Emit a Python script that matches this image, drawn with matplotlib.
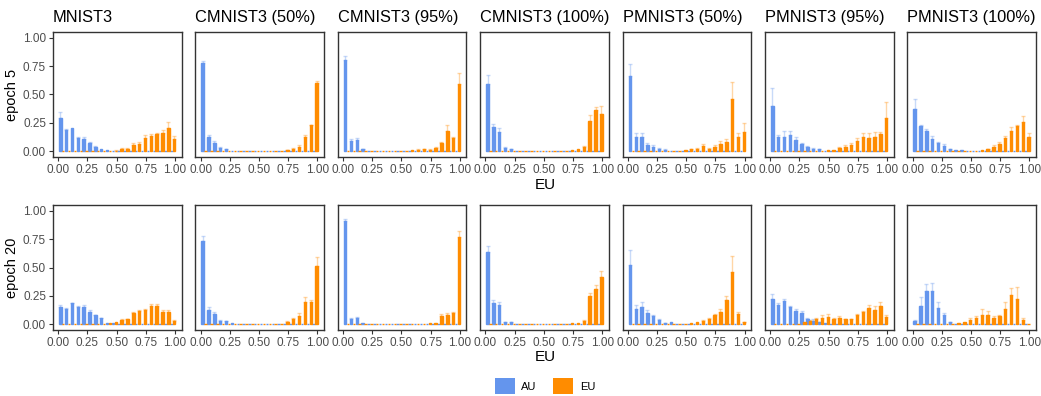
import numpy as np
import matplotlib
matplotlib.use("Agg")
import matplotlib.pyplot as plt
from matplotlib.patches import Patch

plt.rcParams["font.family"] = ["Liberation Sans", "DejaVu Sans"]

# bin positions (20 uncertainty bins)
bin_centers = np.arange(20) * 0.05 + 0.03
titles = ["MNIST3", "CMNIST3 (50%)", "CMNIST3 (95%)", "CMNIST3 (100%)",
          "PMNIST3 (50%)", "PMNIST3 (95%)", "PMNIST3 (100%)"]
row_labels = ["epoch 5", "epoch 20"]

# ---- epoch 5 ----
mnist_e5_au = [0.29, 0.19, 0.205, 0.117, 0.108, 0.073, 0.035, 0.018, 0.01, 0.005, 0.003, 0, 0, 0, 0, 0, 0, 0, 0, 0]
mnist_e5_au_sd = [0.055, 0.01, 0, 0.013, 0.02, 0.007, 0.015, 0, 0, 0, 0, 0, 0, 0, 0, 0, 0, 0, 0, 0]
mnist_e5_eu = [0, 0, 0, 0, 0, 0, 0, 0, 0.003, 0.006, 0.023, 0.023, 0.055, 0.063, 0.117, 0.135, 0.152, 0.158, 0.205, 0.108]
mnist_e5_eu_sd = [0, 0, 0, 0, 0, 0, 0, 0, 0, 0.005, 0.008, 0.008, 0.02, 0.017, 0.023, 0.02, 0.011, 0.027, 0.05, 0.03]

c50_e5_au = [0.78, 0.128, 0.076, 0.026, 0.018, 0.005, 0.003, 0, 0, 0, 0, 0, 0, 0, 0, 0, 0, 0, 0, 0]
c50_e5_au_sd = [0.015, 0.012, 0.012, 0.008, 0.004, 0, 0, 0, 0, 0, 0, 0, 0, 0, 0, 0, 0, 0, 0, 0]
c50_e5_eu = [0, 0, 0, 0, 0, 0, 0, 0, 0, 0, 0, 0, 0, 0.005, 0.01, 0.023, 0.04, 0.128, 0.23, 0.60]
c50_e5_eu_sd = [0, 0, 0, 0, 0, 0, 0, 0, 0, 0, 0, 0, 0, 0, 0.005, 0.01, 0.012, 0.012, 0.004, 0.015]

c95_e5_au = [0.807, 0.09, 0.10, 0.018, 0.005, 0.003, 0, 0, 0, 0, 0, 0, 0, 0, 0, 0, 0, 0, 0, 0]
c95_e5_au_sd = [0.033, 0.015, 0.02, 0.004, 0, 0, 0, 0, 0, 0, 0, 0, 0, 0, 0, 0, 0, 0, 0, 0]
c95_e5_eu = [0, 0, 0, 0, 0, 0, 0, 0, 0, 0, 0, 0.008, 0.012, 0.018, 0.015, 0.03, 0.07, 0.175, 0.117, 0.596]
c95_e5_eu_sd = [0, 0, 0, 0, 0, 0, 0, 0, 0, 0, 0, 0, 0.005, 0.006, 0.005, 0.006, 0.015, 0.053, 0.011, 0.094]

c100_e5_au = [0.596, 0.21, 0.167, 0.026, 0.018, 0.003, 0, 0, 0, 0, 0, 0, 0, 0, 0, 0, 0, 0, 0, 0]
c100_e5_au_sd = [0.074, 0.033, 0.038, 0.01, 0.003, 0, 0, 0, 0, 0, 0, 0, 0, 0, 0, 0, 0, 0, 0, 0]
c100_e5_eu = [0, 0, 0, 0, 0, 0, 0, 0, 0, 0, 0, 0, 0, 0, 0.01, 0.018, 0.038, 0.266, 0.363, 0.325]
c100_e5_eu_sd = [0, 0, 0, 0, 0, 0, 0, 0, 0, 0, 0, 0, 0, 0, 0, 0, 0.008, 0.05, 0.027, 0.075]

p50_e5_au = [0.66, 0.126, 0.126, 0.055, 0.038, 0.02, 0.012, 0.006, 0.003, 0, 0, 0, 0, 0, 0, 0, 0, 0, 0, 0]
p50_e5_au_sd = [0.11, 0.038, 0.038, 0.015, 0.015, 0.008, 0.004, 0, 0, 0, 0, 0, 0, 0, 0, 0, 0, 0, 0, 0]
p50_e5_eu = [0, 0, 0, 0, 0, 0, 0, 0, 0, 0.012, 0.018, 0.023, 0.044, 0.02, 0.038, 0.061, 0.082, 0.456, 0.126, 0.17]
p50_e5_eu_sd = [0, 0, 0, 0, 0, 0, 0, 0, 0, 0, 0.005, 0.006, 0.023, 0.012, 0.02, 0.029, 0.028, 0.158, 0.038, 0.075]

p95_e5_au = [0.40, 0.123, 0.13, 0.14, 0.096, 0.061, 0.035, 0.02, 0.018, 0.006, 0.003, 0, 0, 0, 0, 0, 0, 0, 0, 0]
p95_e5_au_sd = [0.155, 0.023, 0.045, 0.038, 0.03, 0.015, 0.015, 0.005, 0.005, 0, 0, 0, 0, 0, 0, 0, 0, 0, 0, 0]
p95_e5_eu = [0, 0, 0, 0, 0, 0, 0, 0, 0, 0.009, 0.009, 0.026, 0.035, 0.053, 0.088, 0.123, 0.114, 0.13, 0.15, 0.29]
p95_e5_eu_sd = [0, 0, 0, 0, 0, 0, 0, 0, 0, 0, 0, 0.014, 0.02, 0.023, 0.029, 0.041, 0.046, 0.04, 0.02, 0.145]

p100_e5_au = [0.368, 0.22, 0.175, 0.105, 0.07, 0.044, 0.018, 0.009, 0.009, 0.003, 0, 0, 0, 0, 0, 0, 0, 0, 0, 0]
p100_e5_au_sd = [0.088, 0.014, 0.025, 0.03, 0.015, 0.02, 0.005, 0, 0, 0, 0, 0, 0, 0, 0, 0, 0, 0, 0, 0]
p100_e5_eu = [0, 0, 0, 0, 0, 0, 0, 0, 0, 0, 0.003, 0.009, 0.018, 0.038, 0.064, 0.114, 0.175, 0.222, 0.254, 0.123]
p100_e5_eu_sd = [0, 0, 0, 0, 0, 0, 0, 0, 0, 0, 0, 0, 0.005, 0.015, 0.015, 0.023, 0.041, 0.012, 0.059, 0.041]

# ---- epoch 20 ----
mnist_e20_au = [0.152, 0.138, 0.184, 0.155, 0.155, 0.112, 0.078, 0.052, 0.011, 0.009, 0.006, 0.003, 0, 0, 0, 0, 0, 0, 0, 0]
mnist_e20_au_sd = [0.015, 0.009, 0.006, 0.006, 0.015, 0.012, 0.005, 0.005, 0, 0, 0, 0, 0, 0, 0, 0, 0, 0, 0, 0]
mnist_e20_eu = [0, 0, 0, 0, 0, 0, 0, 0.005, 0.009, 0.02, 0.04, 0.045, 0.10, 0.12, 0.13, 0.165, 0.165, 0.11, 0.11, 0.03]
mnist_e20_eu_sd = [0, 0, 0, 0, 0, 0, 0, 0, 0, 0, 0.004, 0.004, 0.008, 0.006, 0.005, 0.012, 0.015, 0.012, 0.014, 0.01]

c50_e20_au = [0.735, 0.129, 0.095, 0.032, 0.026, 0.009, 0.003, 0, 0, 0, 0, 0, 0, 0, 0, 0, 0, 0, 0, 0]
c50_e20_au_sd = [0.04, 0.023, 0.017, 0.006, 0.004, 0, 0, 0, 0, 0, 0, 0, 0, 0, 0, 0, 0, 0, 0, 0]
c50_e20_eu = [0, 0, 0, 0, 0, 0, 0, 0, 0, 0, 0, 0, 0, 0.006, 0.02, 0.046, 0.072, 0.195, 0.195, 0.51]
c50_e20_eu_sd = [0, 0, 0, 0, 0, 0, 0, 0, 0, 0, 0, 0, 0, 0, 0.005, 0.014, 0.028, 0.046, 0.018, 0.08]

c95_e20_au = [0.908, 0.046, 0.055, 0.009, 0.003, 0, 0, 0, 0, 0, 0, 0, 0, 0, 0, 0, 0, 0, 0, 0]
c95_e20_au_sd = [0.022, 0.009, 0.011, 0, 0, 0, 0, 0, 0, 0, 0, 0, 0, 0, 0, 0, 0, 0, 0, 0]
c95_e20_eu = [0, 0, 0, 0, 0, 0, 0, 0, 0, 0, 0, 0, 0, 0, 0.011, 0.014, 0.072, 0.08, 0.098, 0.77]
c95_e20_eu_sd = [0, 0, 0, 0, 0, 0, 0, 0, 0, 0, 0, 0, 0, 0, 0, 0, 0.02, 0.02, 0.011, 0.05]

c100_e20_au = [0.64, 0.184, 0.167, 0.02, 0.02, 0.003, 0, 0, 0, 0, 0, 0, 0, 0, 0, 0, 0, 0, 0, 0]
c100_e20_au_sd = [0.05, 0.029, 0.028, 0.004, 0.004, 0, 0, 0, 0, 0, 0, 0, 0, 0, 0, 0, 0, 0, 0, 0]
c100_e20_eu = [0, 0, 0, 0, 0, 0, 0, 0, 0, 0, 0, 0, 0, 0, 0.014, 0.014, 0.032, 0.25, 0.31, 0.414]
c100_e20_eu_sd = [0, 0, 0, 0, 0, 0, 0, 0, 0, 0, 0, 0, 0, 0, 0, 0, 0.006, 0.03, 0.035, 0.056]

p50_e20_au = [0.52, 0.132, 0.155, 0.103, 0.072, 0.037, 0.011, 0.017, 0.006, 0.003, 0, 0, 0, 0, 0, 0, 0, 0, 0, 0]
p50_e20_au_sd = [0.135, 0.035, 0.04, 0.023, 0.008, 0.008, 0.005, 0, 0, 0, 0, 0, 0, 0, 0, 0, 0, 0, 0, 0]
p50_e20_eu = [0, 0, 0, 0, 0, 0, 0, 0, 0, 0.006, 0.009, 0.02, 0.029, 0.046, 0.08, 0.106, 0.21, 0.46, 0.089, 0.02]
p50_e20_eu_sd = [0, 0, 0, 0, 0, 0, 0, 0, 0, 0, 0, 0, 0.008, 0.01, 0.012, 0.032, 0.04, 0.143, 0.02, 0.004]

p95_e20_au = [0.224, 0.167, 0.207, 0.149, 0.115, 0.098, 0.043, 0.029, 0.017, 0.009, 0.003, 0, 0, 0, 0, 0, 0, 0, 0, 0]
p95_e20_au_sd = [0.04, 0.023, 0.017, 0.015, 0.02, 0.023, 0.017, 0.014, 0.004, 0, 0, 0, 0, 0, 0, 0, 0, 0, 0, 0]
p95_e20_eu = [0, 0, 0, 0, 0, 0.02, 0.03, 0.045, 0.06, 0.065, 0.045, 0.06, 0.045, 0.045, 0.08, 0.105, 0.14, 0.13, 0.158, 0.065]
p95_e20_eu_sd = [0, 0, 0, 0, 0, 0, 0.01, 0.015, 0.02, 0.025, 0.01, 0.015, 0.005, 0.005, 0.01, 0.015, 0.03, 0.035, 0.04, 0.015]

p100_e20_au = [0.026, 0.164, 0.293, 0.293, 0.147, 0.078, 0.017, 0.006, 0.003, 0, 0, 0, 0, 0, 0, 0, 0, 0, 0, 0]
p100_e20_au_sd = [0.011, 0.076, 0.06, 0.067, 0.046, 0.022, 0.004, 0, 0, 0, 0, 0, 0, 0, 0, 0, 0, 0, 0, 0]
p100_e20_eu = [0, 0, 0, 0, 0, 0, 0, 0.009, 0.02, 0.035, 0.052, 0.086, 0.078, 0.052, 0.069, 0.138, 0.259, 0.224, 0.035, 0.006]
p100_e20_eu_sd = [0, 0, 0, 0, 0, 0, 0, 0, 0, 0.017, 0.018, 0.046, 0.043, 0.018, 0.017, 0.057, 0.06, 0.101, 0.017, 0]

panels = [
    [(mnist_e5_au, mnist_e5_au_sd, mnist_e5_eu, mnist_e5_eu_sd),
     (c50_e5_au, c50_e5_au_sd, c50_e5_eu, c50_e5_eu_sd),
     (c95_e5_au, c95_e5_au_sd, c95_e5_eu, c95_e5_eu_sd),
     (c100_e5_au, c100_e5_au_sd, c100_e5_eu, c100_e5_eu_sd),
     (p50_e5_au, p50_e5_au_sd, p50_e5_eu, p50_e5_eu_sd),
     (p95_e5_au, p95_e5_au_sd, p95_e5_eu, p95_e5_eu_sd),
     (p100_e5_au, p100_e5_au_sd, p100_e5_eu, p100_e5_eu_sd)],
    [(mnist_e20_au, mnist_e20_au_sd, mnist_e20_eu, mnist_e20_eu_sd),
     (c50_e20_au, c50_e20_au_sd, c50_e20_eu, c50_e20_eu_sd),
     (c95_e20_au, c95_e20_au_sd, c95_e20_eu, c95_e20_eu_sd),
     (c100_e20_au, c100_e20_au_sd, c100_e20_eu, c100_e20_eu_sd),
     (p50_e20_au, p50_e20_au_sd, p50_e20_eu, p50_e20_eu_sd),
     (p95_e20_au, p95_e20_au_sd, p95_e20_eu, p95_e20_eu_sd),
     (p100_e20_au, p100_e20_au_sd, p100_e20_eu, p100_e20_eu_sd)],
]

au_col = "#6495ED"
eu_col = "#FF8C00"
W, H = 1041, 396
bw = 0.021
off = 0.0125

fig = plt.figure(figsize=(W / 100, H / 100), dpi=100)

row_top = [32, 205]
row_h = 125
for r in range(2):
    for c in range(7):
        left = 53 + 142.4 * c
        ax = fig.add_axes([left / W, 1 - (row_top[r] + row_h) / H, 128.5 / W, row_h / H])
        au, au_sd, eu, eu_sd = panels[r][c]
        au = np.array(au); eu = np.array(eu)
        au_sd = np.array(au_sd); eu_sd = np.array(eu_sd)
        x_au = bin_centers - off
        x_eu = bin_centers + off
        ax.bar(x_au, au, width=bw, color=au_col, edgecolor=au_col, linewidth=1.0, zorder=2)
        ax.bar(x_eu, eu, width=bw, color=eu_col, edgecolor=eu_col, linewidth=1.0, zorder=2)
        m = au_sd > 0
        ax.errorbar(x_au[m], au[m], yerr=[np.zeros(m.sum()), au_sd[m]], fmt="none",
                    ecolor=au_col, alpha=0.35, elinewidth=1, capsize=1.5, capthick=1, zorder=1)
        m = eu_sd > 0
        ax.errorbar(x_eu[m], eu[m], yerr=[np.zeros(m.sum()), eu_sd[m]], fmt="none",
                    ecolor=eu_col, alpha=0.35, elinewidth=1, capsize=1.5, capthick=1, zorder=1)
        ax.set_xlim(-0.045, 1.055)
        ax.set_ylim(-0.05, 1.05)
        ax.set_xticks([0, 0.25, 0.5, 0.75, 1.0])
        ax.set_xticklabels(["0.00", "0.25", "0.50", "0.75", "1.00"])
        ax.set_yticks([0, 0.25, 0.5, 0.75, 1.0])
        ax.tick_params(colors="#333333", labelcolor="#4D4D4D", labelsize=8.5,
                       length=3, width=0.8, pad=2)
        if c == 0:
            ax.set_yticklabels(["0.00", "0.25", "0.50", "0.75", "1.00"])
            ax.set_ylabel(row_labels[r], fontsize=10.5, labelpad=3)
        else:
            ax.tick_params(axis="y", left=False, labelleft=False)
        for s in ax.spines.values():
            s.set_color("#333333")
            s.set_linewidth(1)
        if r == 0:
            ax.set_title(titles[c], loc="left", fontsize=11.8, pad=7)

fig.text(545 / W, 1 - 185 / H, "EU", ha="center", va="center", fontsize=11)
fig.text(545 / W, 1 - 357 / H, "EU", ha="center", va="center", fontsize=11)

handles = [Patch(facecolor=au_col, label="AU"), Patch(facecolor=eu_col, label="EU")]
fig.legend(handles=handles, loc="center", bbox_to_anchor=(545 / W, 1 - 386 / H), ncol=2,
           frameon=False, fontsize=8, handlelength=1.8, handleheight=1.8,
           columnspacing=1.5, handletextpad=0.6)

fig.savefig("out.png", dpi=100)
